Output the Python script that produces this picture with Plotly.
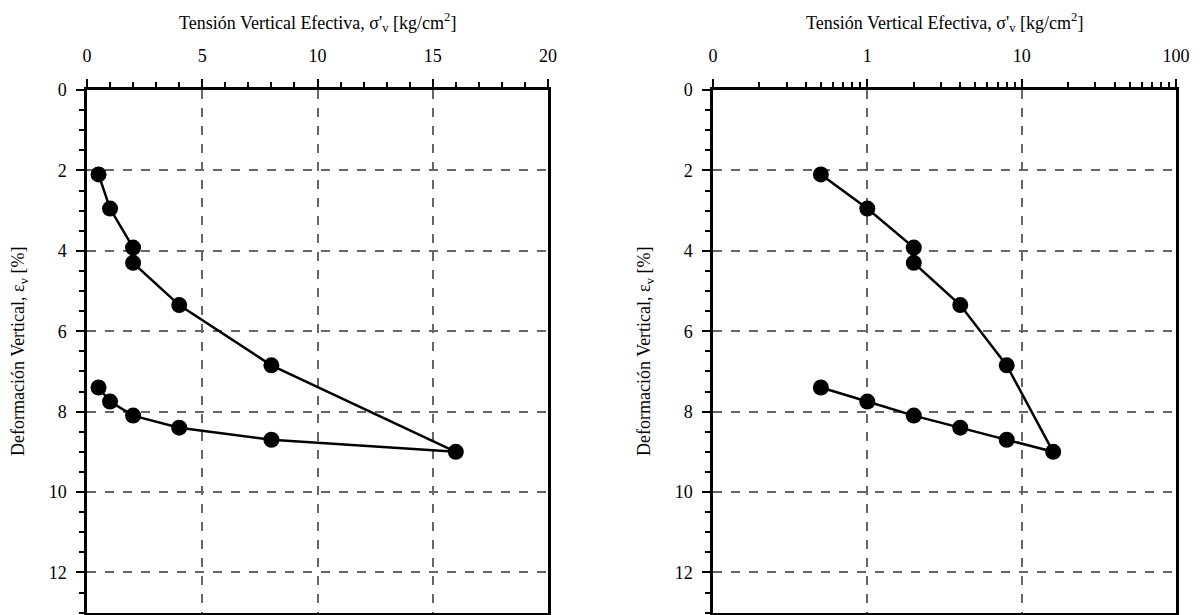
import plotly.graph_objects as go

# Data: effective vertical stress [kg/cm2] and vertical strain [%] in test order
sigma = [0.5, 1, 2, 2, 4, 8, 16, 8, 4, 2, 1, 0.5]
strain = [2.1, 2.95, 3.92, 4.3, 5.35, 6.85, 9.0, 8.7, 8.4, 8.1, 7.75, 7.4]

lin_ticks = [0, 5, 10, 15, 20]
log_ticks = [0.1, 1, 10, 100]
log_ticktext = ["0", "1", "10", "100"]
log_minor = [m * d for d in (0.1, 1, 10) for m in range(2, 10)]

OFF = 8  # default page body margin
W, H = 1202 - OFF, 615 - OFF
FONT = "'Liberation Serif', 'DejaVu Serif', serif"
x_title = "Tensión Vertical Efectiva, σ'<sub>v</sub> [kg/cm<sup>2</sup>]"
y_title = "Deformación Vertical, ε<sub>v</sub> [%]"

fig = go.Figure()
for xa, ya in (("x", "y"), ("x2", "y2")):
    fig.add_trace(go.Scatter(
        x=sigma, y=strain, xaxis=xa, yaxis=ya, mode="lines+markers",
        line=dict(color="black", width=2.5),
        marker=dict(color="black", size=16),
        showlegend=False, cliponaxis=False,
    ))

def px_x(p):
    return (p - OFF) / W

def px_y(p):
    return 1 - (p - OFF) / H

ydom = [px_y(612.6), px_y(90)]
common = dict(
    ticks="outside", ticklen=8, tickwidth=2, tickcolor="black",
    showline=True, linewidth=2.5, linecolor="black", mirror=True,
    showgrid=True, gridcolor="#666666", gridwidth=1.5, griddash="dash",
    zeroline=False, automargin=False,
    tickfont=dict(family=FONT, size=18, color="black"),
)
minor_lin_x = dict(ticks="outside", dtick=1, ticklen=5, tickwidth=1.5, tickcolor="black", showgrid=False)
minor_y = dict(ticks="outside", dtick=0.5, ticklen=5, tickwidth=1.5, tickcolor="black", showgrid=False)

fig.update_layout(
    width=W, height=H, margin=dict(l=0, r=0, t=0, b=0, autoexpand=False),
    paper_bgcolor="white", plot_bgcolor="white",
    font=dict(family=FONT, size=18, color="black"),
    xaxis=dict(domain=[px_x(87), px_x(548)], range=[0, 20], side="top", anchor="y",
               tickvals=lin_ticks, minor=minor_lin_x, ticklabelstandoff=10, **common),
    yaxis=dict(domain=ydom, range=[13, 0], anchor="x", dtick=2, minor=minor_y,
               ticklabelstandoff=6, **common),
    xaxis2=dict(domain=[px_x(713), px_x(1176)], type="log", range=[-1, 2], side="top", anchor="y2",
                tickvals=log_ticks, ticktext=log_ticktext,
                minor=dict(ticks="outside", tickvals=log_minor, ticklen=5, tickwidth=1.5,
                           tickcolor="black", showgrid=False),
                ticklabelstandoff=10, **common),
    yaxis2=dict(domain=ydom, range=[13, 0], anchor="x2", dtick=2, minor=minor_y,
                ticklabelstandoff=6, **common),
)

for cx, cy in ((317.5, 22), (944.5, 22)):
    fig.add_annotation(x=px_x(cx), y=px_y(cy), xref="paper", yref="paper", text=x_title,
                       showarrow=False, xanchor="center", yanchor="middle",
                       font=dict(family=FONT, size=18, color="black"))
for cx in (19, 645):
    fig.add_annotation(x=px_x(cx), y=px_y(352), xref="paper", yref="paper", text=y_title,
                       showarrow=False, textangle=-90, xanchor="center", yanchor="middle",
                       font=dict(family=FONT, size=18, color="black"))

fig.write_html("out.html")
